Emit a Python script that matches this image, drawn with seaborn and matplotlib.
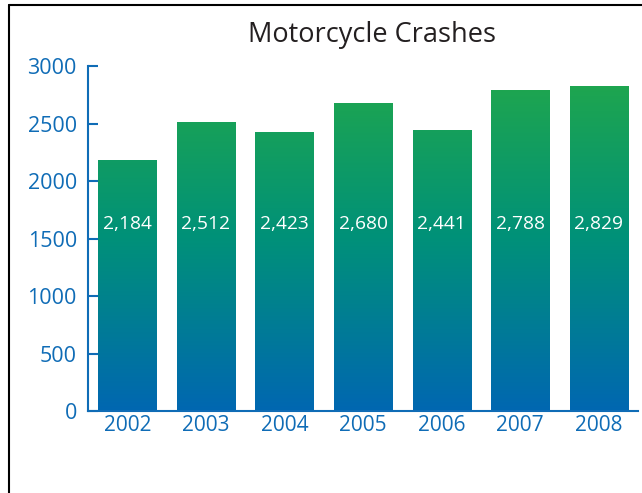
import numpy as np
import pandas as pd
import matplotlib
matplotlib.use("Agg")
import matplotlib.pyplot as plt
from matplotlib.colors import LinearSegmentedColormap
from matplotlib.lines import Line2D
import seaborn as sns

# Données
annees = ["2002", "2003", "2004", "2005", "2006", "2007", "2008"]
accidents = [2184, 2512, 2423, 2680, 2441, 2788, 2829]
etiquettes = ["2,184", "2,512", "2,423", "2,680", "2,441", "2,788", "2,829"]
graduations_y = [0, 500, 1000, 1500, 2000, 2500, 3000]

bleu = "#0f6cb6"
df = pd.DataFrame({"annee": annees, "accidents": accidents})

sns.set_style("white")
plt.rcParams["font.family"] = ["Open Sans", "DejaVu Sans"]

fig = plt.figure(figsize=(6.42, 4.93), dpi=100)
ax = fig.add_axes([0.137, 0.166, 0.857, 0.700])

sns.barplot(data=df, x="annee", y="accidents", color="#1fa64a", width=0.74, ax=ax)

# Dégradé vert -> bleu dans chaque barre
cmap = LinearSegmentedColormap.from_list("vb", ["#0067b1", "#009179", "#22a84a"])
grad = np.linspace(0, 1, 256).reshape(-1, 1)
for p in ax.patches:
    x0, w, h = p.get_x(), p.get_width(), p.get_height()
    im = ax.imshow(grad, cmap=cmap, aspect="auto", origin="lower",
                   extent=[x0, x0 + w, 0, 3000], zorder=p.get_zorder() + 0.1)
    im.set_clip_path(p)
    p.set_edgecolor("none")

for i, txt in enumerate(etiquettes):
    ax.text(i, 1630, txt, color="white", ha="center", va="center", fontsize=13.8, zorder=5)

ax.set_xlim(-0.5, 6.5)
ax.set_ylim(0, 3000)
ax.set_yticks(graduations_y)
ax.set_xticks(np.arange(len(annees)))
ax.set_xticklabels(annees)
ax.set_xticks(np.arange(len(annees) - 1) + 0.5, minor=True)
ax.tick_params(axis="x", which="major", length=0, labelsize=15, labelcolor=bleu, pad=3)
ax.tick_params(axis="x", which="minor", direction="in", length=7, width=1.5, color=bleu)
ax.tick_params(axis="y", direction="in", length=7, width=1.5, color=bleu,
               labelsize=15.5, labelcolor=bleu, pad=8, left=True)
ax.set_xlabel("")
ax.set_ylabel("")
for s in ["top", "right"]:
    ax.spines[s].set_visible(False)
for s in ["left", "bottom"]:
    ax.spines[s].set_color(bleu)
    ax.spines[s].set_linewidth(1.5)

fig.text(0.579, 0.928, "Motorcycle Crashes", ha="center", va="center",
         fontsize=19.5, color="#231f20")

# Cadre
fig.add_artist(Line2D([0.014, 0.014], [0, 0.99], color="black", lw=1.5))
fig.add_artist(Line2D([0.014, 1], [0.99, 0.99], color="black", lw=1.5))

fig.savefig("out.png", dpi=100)
